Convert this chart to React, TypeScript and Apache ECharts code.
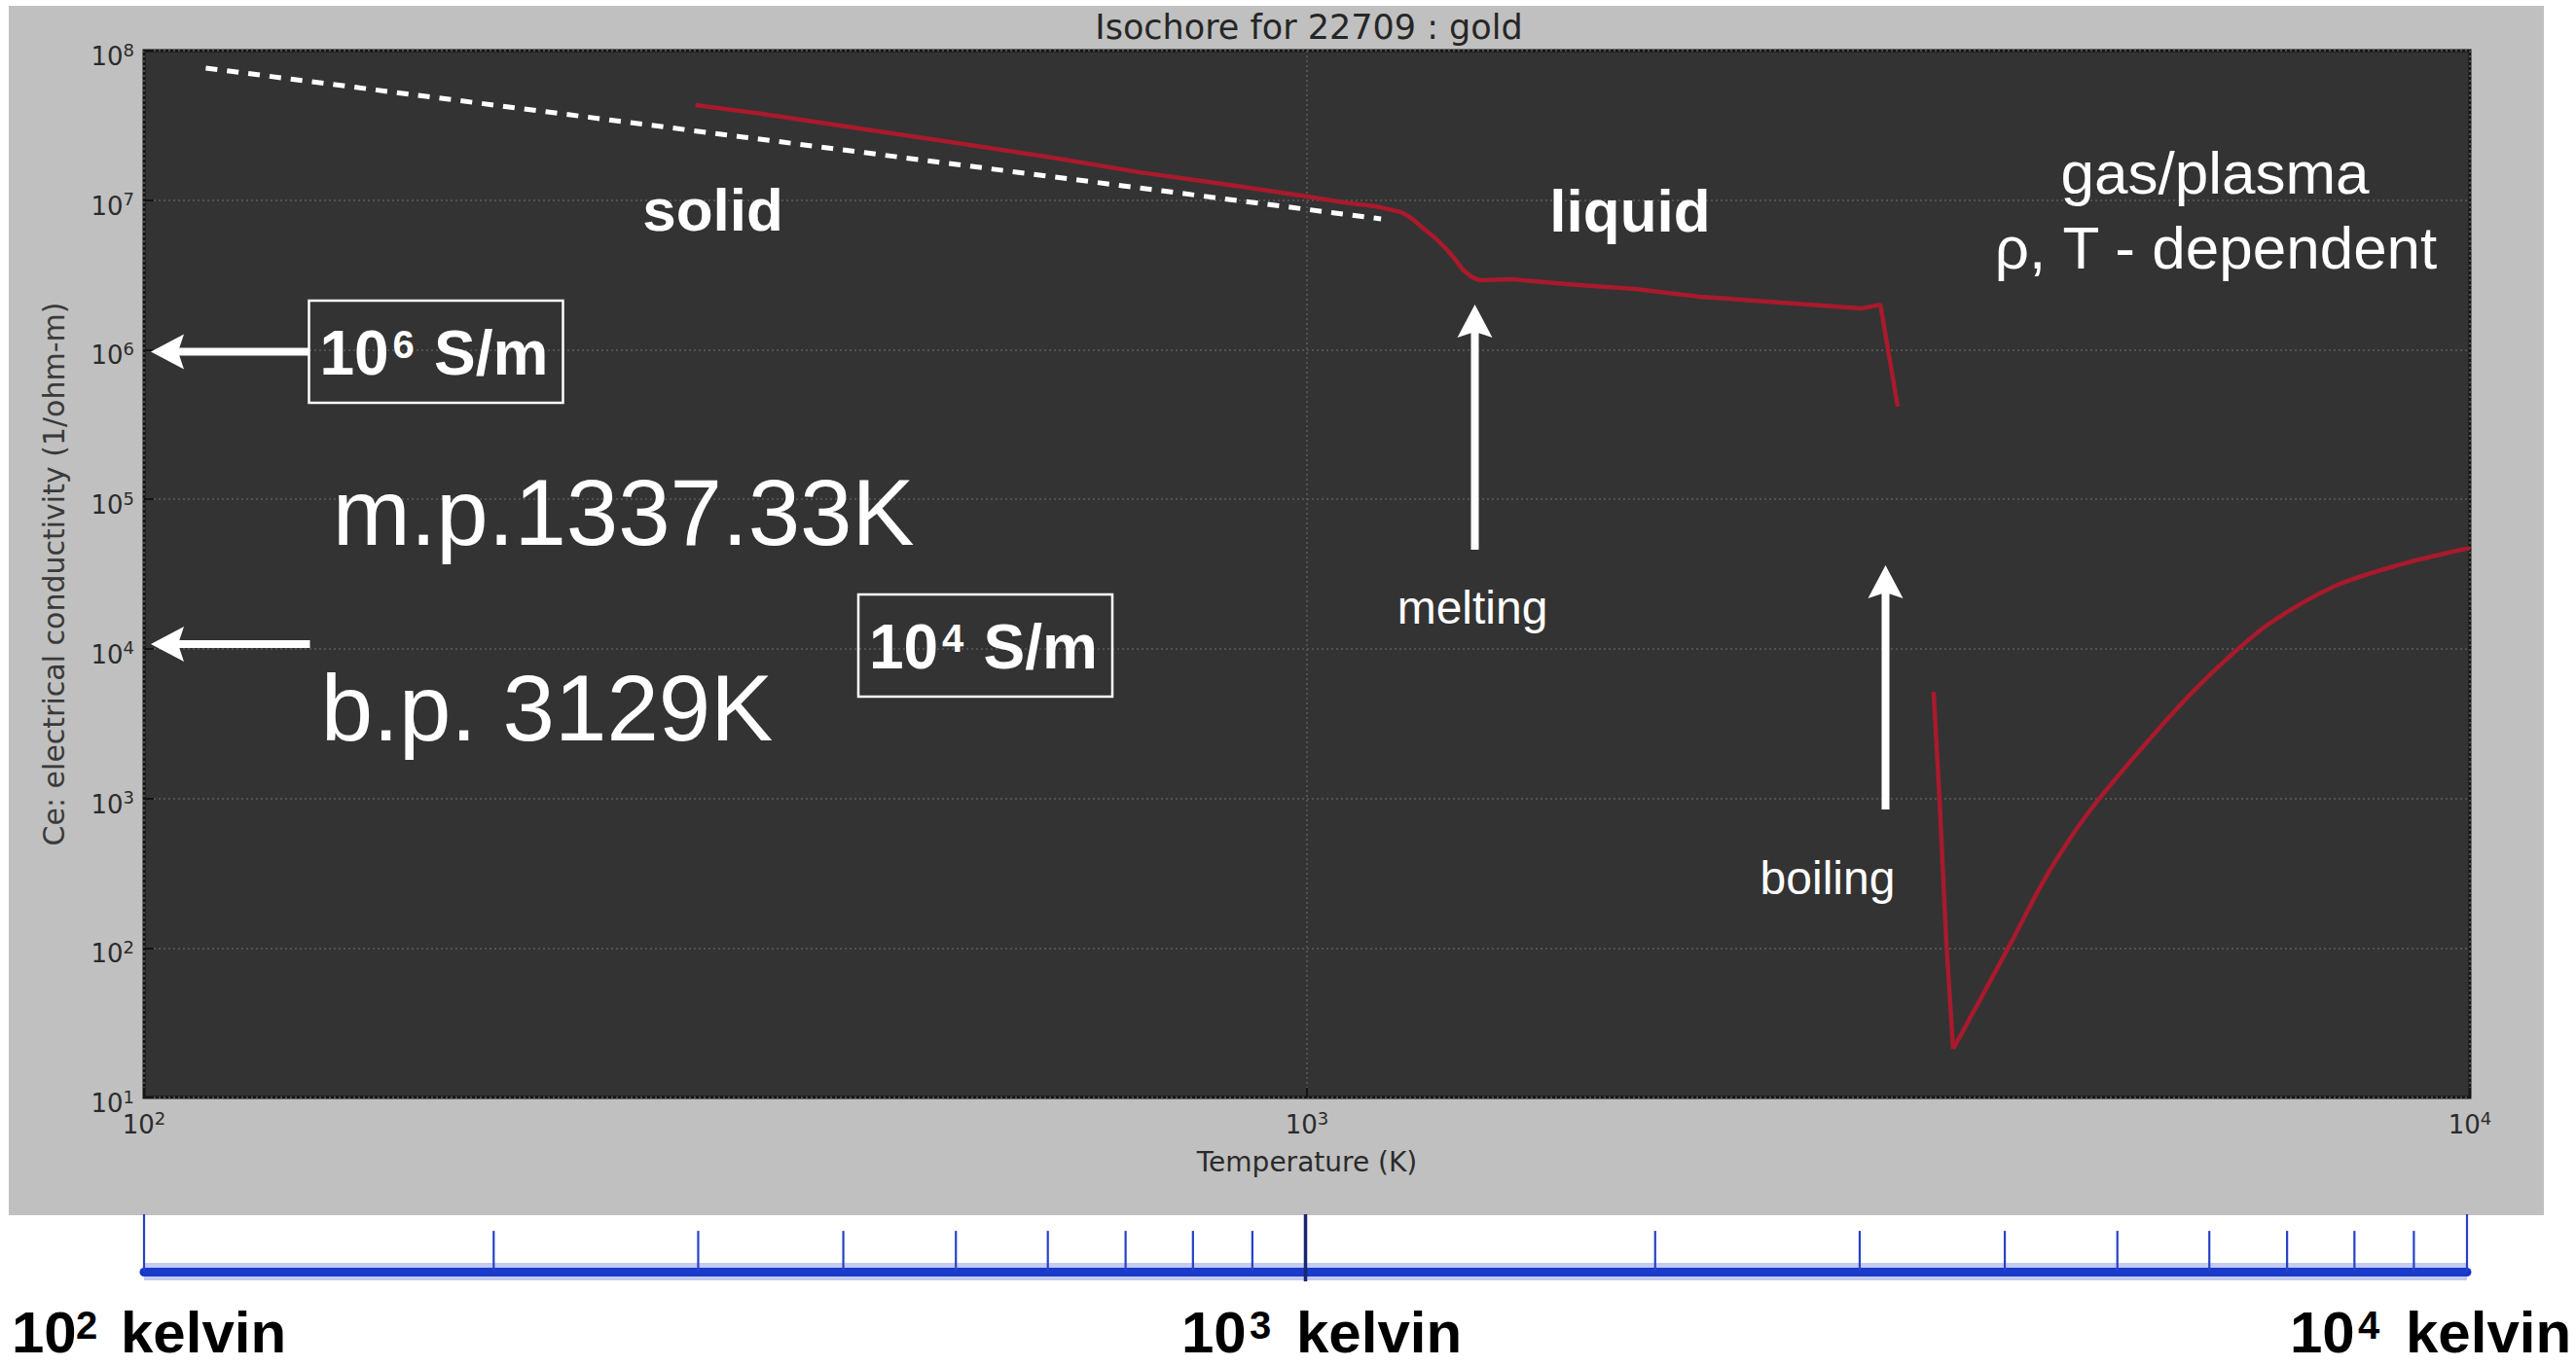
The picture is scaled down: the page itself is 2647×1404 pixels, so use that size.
import React, { useEffect, useRef } from 'react';
import * as echarts from 'echarts';

const CHART_W = 2647;
const CHART_H = 1404;

// ---- data ----
// condensed phase (solid + liquid), temperature in K, conductivity in S/m
const condensedT = [298, 340, 412, 500, 606, 716, 826, 998, 1074, 1145, 1206, 1232, 1260, 1290, 1320, 1341, 1361, 1384, 1407, 1434, 1499, 1682, 1914, 2178, 2642, 3000, 3112, 3221];
const condensedSigma = [4.32e7, 3.78e7, 3.02e7, 2.41e7, 1.92e7, 1.54e7, 1.32e7, 1.06e7, 9.66e6, 9.1e6, 8.3e6, 7.49e6, 6.45e6, 5.55e6, 4.64e6, 4.01e6, 3.44e6, 3.08e6, 2.91e6, 2.93e6, 2.96e6, 2.74e6, 2.55e6, 2.26e6, 2.03e6, 1.89e6, 2.0e6, 4.16e5];
// gas / plasma branch: the drop after boiling, then the rise
const gasDropT = [3458, 3499, 3546, 3594];
const gasDropSigma = [5160, 978, 110, 21.1];
const gasRiseT = [3594, 3757, 4035, 4301, 4583, 4828, 5419, 5820, 6237, 6737, 7665, 8721, 9904, 10000];
const gasRiseSigma = [21.1, 39.6, 110, 282, 615, 1054, 3010, 5475, 9120, 14940, 26400, 36700, 46600, 47100];
// white dashed power-law guide
const guideT = [113, 1158];
const guideSigma = [7.64e7, 7.49e6];
// bottom kelvin scale ticks
const scaleMajorTicks = [100, 1000, 10000];
const scaleMinorTicks = [200, 300, 400, 500, 600, 700, 800, 900, 2000, 3000, 4000, 5000, 6000, 7000, 8000, 9000];
// axis ranges
const tempRange = [100, 10000];
const sigmaRange = [10, 1e8];
const kelvinExponents = ['2', '3', '4'];

const WHITE = '#ffffff';
const RED = '#a81a2c';
const BLUE = '#1436c8';
const annFont = "'Liberation Sans', Arial, Helvetica, sans-serif";
const plotFont = "'DejaVu Sans', sans-serif";
const axisText = '#2b2b2b';

function label(text: string, x: number, y: number, size: number, opts: any = {}) {
  const align = opts.align ?? 'center';
  const style: any = {
    text, fill: opts.color ?? WHITE, fontSize: size, fontWeight: opts.weight ?? 'normal',
    fontFamily: opts.family ?? annFont, align, verticalAlign: 'middle', textAlign: align, textVerticalAlign: 'middle',
  };
  if (opts.lineHeight) style.lineHeight = opts.lineHeight;
  return { type: 'text', z: 100, silent: true, x, y, style };
}

const SHAFT = 8, HEAD_W = 36, HEAD_L = 34, NOTCH = 6;
function arrowUp(x: number, tipY: number, tailY: number) {
  const sy = tipY + HEAD_L - NOTCH - 1;
  return [
    { type: 'rect', z: 100, silent: true, shape: { x: x - SHAFT / 2, y: sy, width: SHAFT, height: tailY - sy }, style: { fill: WHITE } },
    { type: 'polygon', z: 100, silent: true, shape: { points: [[x, tipY], [x + HEAD_W / 2, tipY + HEAD_L], [x, tipY + HEAD_L - NOTCH], [x - HEAD_W / 2, tipY + HEAD_L]] }, style: { fill: WHITE } },
  ];
}
function arrowLeft(tipX: number, tailX: number, y: number) {
  const sx = tipX + HEAD_L - NOTCH - 1;
  return [
    { type: 'rect', z: 100, silent: true, shape: { x: sx, y: y - SHAFT / 2, width: tailX - sx, height: SHAFT }, style: { fill: WHITE } },
    { type: 'polygon', z: 100, silent: true, shape: { points: [[tipX, y], [tipX + HEAD_L, y - HEAD_W / 2], [tipX + HEAD_L - NOTCH, y], [tipX + HEAD_L, y + HEAD_W / 2]] }, style: { fill: WHITE } },
  ];
}
function sBox(left: number, top: number, exp: string) {
  return [
    { type: 'rect', z: 100, silent: true, shape: { x: left, y: top, width: 261, height: 105 }, style: { fill: 'transparent', stroke: WHITE, lineWidth: 2.5 } },
    label('10', left + 11, top + 53.5, 64, { weight: 'bold', align: 'left' }),
    label(exp, left + 86, top + 45.4, 40, { weight: 'bold', align: 'left' }),
    label('S/m', left + 128.5, top + 53.5, 64, { weight: 'bold', align: 'left' }),
  ];
}
function kelvinLabel(x10: number, xSup: number, xK: number, exp: string) {
  const o = { weight: 'bold', align: 'left', color: '#000000', lineHeight: 46 };
  return [
    label('10', x10, 1369.5, 60, o),
    label(exp, xSup, 1361.8, 40, { ...o, lineHeight: 32 }),
    label('kelvin', xK, 1369.5, 60, o),
  ];
}

const pow10Label = (v: number) => `{b|10}{s|${Math.round(Math.log10(v))}}`;
const tickRich = {
  b: { fontSize: 26, fontFamily: plotFont, color: axisText, lineHeight: 32 },
  s: { fontSize: 18, fontFamily: plotFont, color: axisText, lineHeight: 20, verticalAlign: 'top' },
};

const stripTick = (kind: 'major' | 'minor') => (_p: any, api: any) => {
  const t = api.value(0);
  const mid = kind === 'major' && t === 1000;
  const a = api.coord([t, kind === 'major' ? 1 : 0.71]);
  const b = api.coord([t, mid ? -0.17 : 0]);
  return {
    type: 'line',
    shape: { x1: a[0], y1: a[1], x2: b[0], y2: b[1] },
    style: { stroke: mid ? '#1a2670' : '#2742c4', lineWidth: mid ? 3.5 : 2.2 },
  };
};

const redLine = (name: string, T: number[], S: number[], smooth: any) => ({
  type: 'line', name, xAxisIndex: 0, yAxisIndex: 0, silent: true, z: 4,
  data: T.map((t, i) => [t, S[i]]), showSymbol: false, symbol: 'none',
  smooth,
  lineStyle: { color: RED, width: 4.5 },
});

const option: any = {
  animation: false,
  backgroundColor: '#ffffff',
  grid: [
    { left: 148, right: 109, top: 52, bottom: CHART_H - 1128, show: true, backgroundColor: '#333333', borderColor: '#141414', borderWidth: 3, containLabel: false, outerBoundsMode: 'none' },
    { left: 148, right: 112, top: 1248, height: 59, show: false, containLabel: false, outerBoundsMode: 'none' },
  ],
  xAxis: [
    {
      type: 'log', logBase: 10, gridIndex: 0, min: tempRange[0], max: tempRange[1],
      name: 'Temperature (K)', nameLocation: 'middle', nameGap: 52,
      nameTextStyle: { fontSize: 28, fontFamily: plotFont, color: axisText },
      axisLine: { show: false },
      axisTick: { show: true, inside: true, length: 10, lineStyle: { color: '#141414', width: 2 } },
      axisLabel: { formatter: pow10Label, rich: tickRich, margin: 12, showMinLabel: true, showMaxLabel: true },
      splitLine: { show: true, lineStyle: { color: '#5e5e5e', width: 1.5, type: [2, 3] } },
    },
    {
      type: 'log', logBase: 10, gridIndex: 1, min: tempRange[0], max: tempRange[1],
      axisLine: { show: true, onZero: false, lineStyle: { color: BLUE, width: 9 } },
      axisTick: { show: false }, axisLabel: { show: false }, splitLine: { show: false },
    },
  ],
  yAxis: [
    {
      type: 'log', logBase: 10, gridIndex: 0, min: sigmaRange[0], max: sigmaRange[1],
      name: 'Ce: electrical conductivity (1/ohm-m)', nameLocation: 'middle', nameGap: 78,
      nameTextStyle: { fontSize: 30, fontFamily: plotFont, color: '#3a3a3a' },
      axisLine: { show: false },
      axisTick: { show: true, inside: true, length: 10, lineStyle: { color: '#141414', width: 2 } },
      axisLabel: { formatter: pow10Label, rich: tickRich, margin: 10, padding: [12, 0, 0, 0], showMinLabel: true, showMaxLabel: true },
      splitLine: { show: true, lineStyle: { color: '#5e5e5e', width: 1.5, type: [2, 3] } },
    },
    { type: 'value', gridIndex: 1, min: 0, max: 1, show: false },
  ],
  series: [
    {
      type: 'line', name: 'guide', xAxisIndex: 0, yAxisIndex: 0, silent: true, z: 3,
      data: guideT.map((t, i) => [t, guideSigma[i]]), showSymbol: false, symbol: 'none',
      lineStyle: { color: WHITE, width: 5, type: [12, 10] },
    },
    redLine('condensed', condensedT, condensedSigma, false),
    redLine('gas drop', gasDropT, gasDropSigma, false),
    redLine('gas rise', gasRiseT, gasRiseSigma, 0.3),
    {
      type: 'line', name: 'scale glow', xAxisIndex: 1, yAxisIndex: 1, silent: true, z: 1,
      data: tempRange.map((t) => [t, 0]), showSymbol: false, symbol: 'none',
      lineStyle: { color: 'rgba(40,70,210,0.28)', width: 18 },
    },
    {
      type: 'custom', xAxisIndex: 1, yAxisIndex: 1, silent: true, clip: false, z: 5,
      data: scaleMajorTicks.map((t) => [t, 0]), renderItem: stripTick('major'),
    },
    {
      type: 'custom', xAxisIndex: 1, yAxisIndex: 1, silent: true, clip: false, z: 5,
      data: scaleMinorTicks.map((t) => [t, 0]), renderItem: stripTick('minor'),
    },
  ],
  graphic: {
    elements: [
      { type: 'rect', z: -10, silent: true, shape: { x: 9, y: 6, width: 2605, height: 1243 }, style: { fill: '#c0c0c0' } },
      label('Isochore for 22709 : gold', 1345, 27.5, 35, { color: '#262626', family: plotFont }),
      label('solid', 732.5, 215.5, 62, { weight: 'bold' }),
      label('liquid', 1675, 216.5, 62, { weight: 'bold' }),
      label('gas/plasma', 2276, 177.5, 62),
      label('ρ, T - dependent', 2277, 254.5, 62),
      label('m.p.1337.33K', 640.6, 526.7, 96),
      label('b.p. 3129K', 562, 727.7, 96),
      label('melting', 1513, 624, 48),
      label('boiling', 1878, 902, 48),
      ...arrowLeft(155, 318, 361.5),
      ...arrowLeft(155, 318.5, 662),
      ...arrowUp(1515.5, 313, 565),
      ...arrowUp(1937.5, 581, 832),
      ...sBox(317.5, 309, '6'),
      ...sBox(882, 611, '4'),
      ...kelvinLabel(12, 78, 124, kelvinExponents[0]),
      ...kelvinLabel(1214, 1284, 1332, kelvinExponents[1]),
      ...kelvinLabel(2353, 2423, 2472, kelvinExponents[2]),
    ],
  },
};

export default function App() {
  const ref = useRef<HTMLDivElement>(null);
  useEffect(() => {
    document.body.style.margin = '0';
    document.body.style.overflow = 'hidden';
    const chart = echarts.init(ref.current!, undefined, { renderer: 'svg', width: CHART_W, height: CHART_H });
    chart.setOption(option);
    return () => chart.dispose();
  }, []);
  return <div ref={ref} style={{ width: CHART_W, height: CHART_H, background: '#ffffff' }} />;
}
